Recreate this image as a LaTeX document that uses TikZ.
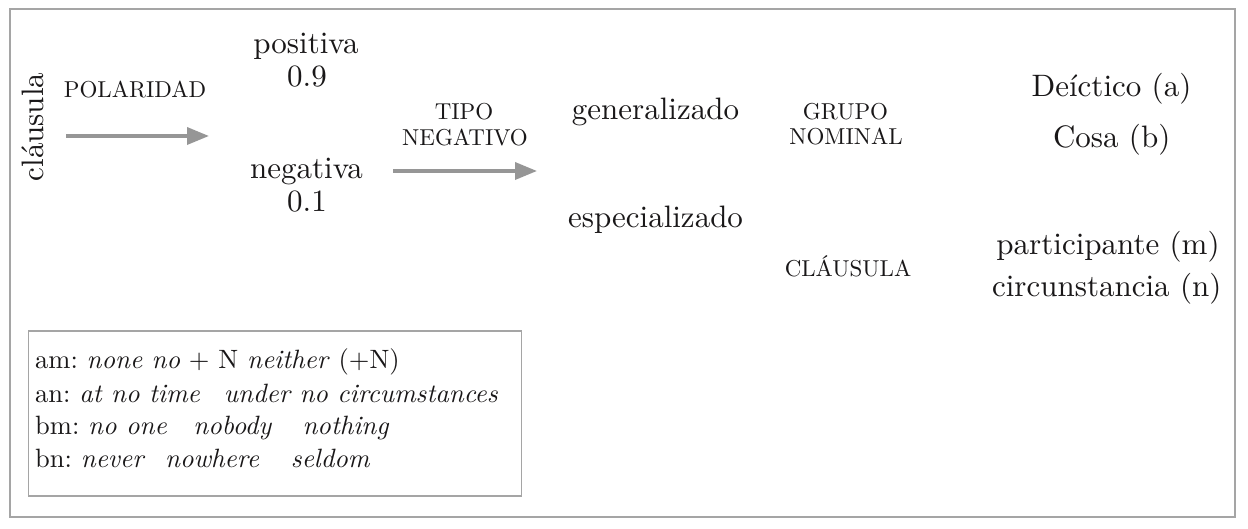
\documentclass[tikz,border=0pt]{standalone}
\usepackage{fontspec}
\setmainfont{lmroman10-regular.otf}[ItalicFont=lmroman10-italic.otf, BoldFont=lmroman10-bold.otf]
\usetikzlibrary{arrows.meta}
\frenchspacing
\definecolor{txt}{RGB}{25,23,24}
\definecolor{framegray}{RGB}{165,165,165}
\definecolor{arrgray}{RGB}{150,150,150}
\begin{document}
\begin{tikzpicture}[x=1pt,y=-1pt,
  big/.style={font=\fontsize{31}{37}\selectfont, text=txt, inner sep=0pt, anchor=base},
  caps/.style={font=\fontsize{23}{27}\selectfont, text=txt, inner sep=0pt, anchor=base},
  leg/.style={font=\fontsize{26.5}{32}\selectfont, text=txt, inner sep=0pt, anchor=base west},
  conn/.style={draw=arrgray, line width=3.5pt, -{Triangle[length=22pt,width=17pt]}},
  frame/.style={draw=framegray, line width=2pt},
]
\path[use as bounding box] (0,0) rectangle (1248,529);
\draw[frame] (10,9) rectangle (1235,517);
\draw[frame, line width=1.6pt] (28.5,331) rectangle (521.5,496);

\node[big, rotate=90] (cl) at (43,127) {cláusula};
\node[caps] (pol) at (135,98) {POLARIDAD};
\coordinate (a1s) at (66,136);
\coordinate (a1e) at (209,136);
\draw[conn] (a1s) -- (a1e);

\node[big] (pos) at (306,54) {positiva};
\node[big] (p09) at (307,87) {0.9};
\node[big] (neg) at (306.5,179) {negativa};
\node[big] (p01) at (307,212) {0.1};

\node[caps] (tipo) at (464,119.3) {TIPO};
\node[caps] (negt) at (465,146) {NEGATIVO};
\coordinate (a2s) at (393,171);
\coordinate (a2e) at (537,171);
\draw[conn] (a2s) -- (a2e);

\node[big] (gen) at (655.5,120) {generalizado};
\node[big] (esp) at (655.5,228) {especializado};

\node[caps] (grupo) at (845.5,120) {GRUPO};
\node[caps] (nomi) at (846,145) {NOMINAL};
\node[caps] (clau) at (848,277) {CLÁUSULA};

\node[big] (deic) at (1111.5,96.7) {Deíctico (a)};
\node[big] (cosa) at (1111.7,148) {Cosa (b)};
\node[big] (part) at (1108,255) {participante (m)};
\node[big] (circ) at (1106.7,297) {circunstancia (n)};

\node[leg] (l1) at (35,369) {am: \textit{none no} + N \textit{neither} (+N)};
\node[leg] (l2) at (35,402) {an: \textit{at no time}\hspace{0.9em}\textit{under no circumstances}};
\node[leg] (l3) at (35,434) {bm: \textit{no one}\hspace{1em}\textit{nobody}\hspace{1.15em}\textit{nothing}};
\node[leg] (l4) at (35,467) {bn: \textit{never}\hspace{0.75em}\textit{nowhere}\hspace{1.2em}\textit{seldom}};
\end{tikzpicture}
\end{document}
